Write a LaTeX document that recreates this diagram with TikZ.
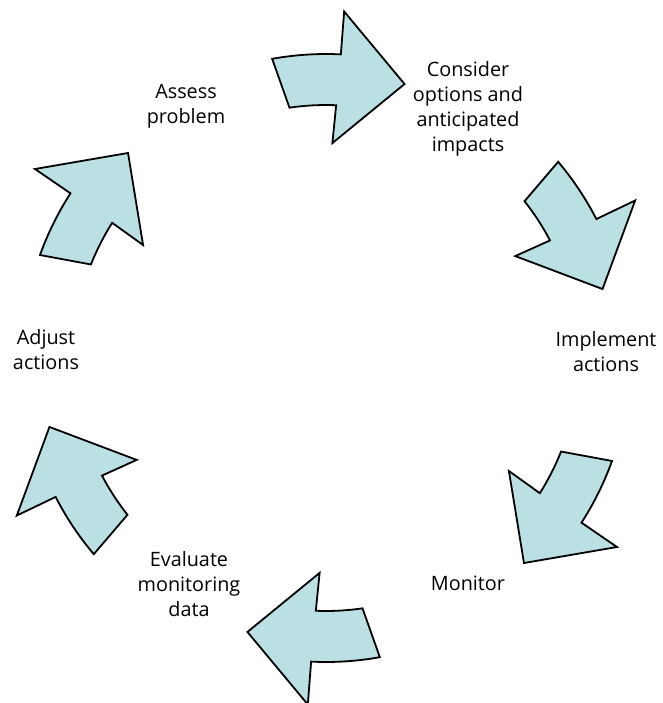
\documentclass[tikz,border=0pt]{standalone}
\usepackage{fontspec}
\setmainfont{Open Sans}
\usepackage{xcolor}
\usepackage{tikz}

\definecolor{arrowfill}{RGB}{187,224,227}

\tikzset{
    step label/.style={align=center, font=\fontsize{9.9}{12.5}\selectfont},
    cycle arrow/.style={draw=black, fill=arrowfill, line width=0.9pt, line join=miter},
}

\begin{document}
\begin{tikzpicture}[x=0.5pt, y=0.5pt]
        \useasboundingbox (-326,-345) rectangle (337,358);

        % six bent arrows, tip at angle 0 before rotating
        \foreach \a in {74,14,-46,-106,-166,134} {
            \draw[cycle arrow, rotate=\a]
                (26.2:304) arc[start angle=26.2, end angle=13.2, radius=304]
                -- (13.0:347) -- (0:285) -- (14.3:215) -- (13.7:253)
                arc[start angle=13.7, end angle=24.3, radius=253] -- cycle;
        }

        \node[step label] (assess) at (-140,252) {Assess\\problem};
        \node[step label] (consider) at (142,249) {Consider\\options and\\anticipated\\impacts};
        \node[step label] (implement) at (280,6) {Implement\\actions};
        \node[step label] (monitor) at (142,-225) {Monitor};
        \node[step label] (evaluate) at (-137,-226) {Evaluate\\monitoring\\data};
        \node[step label] (adjust) at (-280,8) {Adjust\\actions};
    \end{tikzpicture}
\end{document}
